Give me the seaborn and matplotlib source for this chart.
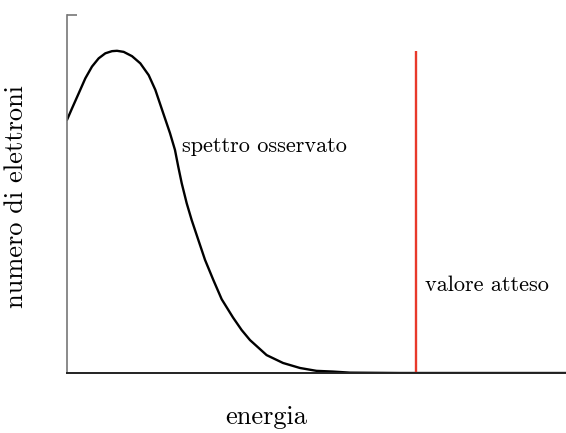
import matplotlib
matplotlib.use("Agg")
import matplotlib.pyplot as plt
import numpy as np
import pandas as pd
import seaborn as sns

energia = [0.0, 0.10, 0.234, 0.367, 0.501, 0.635, 0.768, 0.902, 1.002,
           1.136, 1.303, 1.469, 1.637, 1.770, 1.930, 2.064, 2.164, 2.230,
           2.299, 2.399, 2.499, 2.631, 2.766, 2.932, 3.100, 3.327, 3.500,
           3.667, 4.0, 4.329, 4.669, 5.0, 5.33, 5.67, 6.67, 10.0]
elettroni = [0.707, 0.739, 0.781, 0.823, 0.856, 0.879, 0.893, 0.899, 0.900,
             0.897, 0.885, 0.865, 0.832, 0.791, 0.725, 0.670, 0.623, 0.576,
             0.530, 0.474, 0.427, 0.372, 0.316, 0.260, 0.206, 0.155, 0.120,
             0.092, 0.050, 0.028, 0.014, 0.006, 0.004, 0.001, 0.0, 0.0]
valore_atteso = 7.0
picco = 0.90

sns.set_style("white")
plt.rcParams["font.family"] = ["cmr10", "DejaVu Serif"]
plt.rcParams["axes.formatter.use_mathtext"] = True
plt.rcParams["text.color"] = "black"

df = pd.DataFrame({"energia": energia, "elettroni": elettroni})

fig = plt.figure(figsize=(5.66, 4.33), dpi=100)
ax = fig.add_axes([67 / 566, 60 / 433, 499 / 566, 358 / 433])

sns.lineplot(data=df, x="energia", y="elettroni", color="black", lw=1.7, ax=ax)
ax.vlines(valore_atteso, 0, picco, color="#e8392b", lw=1.7)

ax.text(2.3, 0.634, "spettro osservato", fontsize=16, va="center", color="black")
ax.text(7.17, 0.246, "valore atteso", fontsize=16, va="center", color="black")

ax.set_xlim(0, 10)
ax.set_ylim(0, 1)
ax.set_xlabel("")
ax.set_ylabel("")
ax.set_xticks([])
ax.set_yticks([1.0])
ax.set_yticklabels([])
ax.tick_params(axis="y", left=True, direction="in", length=7, width=1.2,
               color="#777777")

for s in ["top", "right"]:
    ax.spines[s].set_visible(False)
ax.spines["left"].set_color("#777777")
ax.spines["left"].set_linewidth(1.2)
ax.spines["bottom"].set_color("#222222")
ax.spines["bottom"].set_linewidth(1.4)

fig.text(266 / 566, 1 - 417 / 433, "energia", fontsize=19, ha="center",
         va="center", color="black")
fig.text(16 / 566, 1 - 197 / 433, "numero di elettroni", fontsize=19,
         ha="center", va="center", rotation=90, color="black")

fig.savefig("out.png", dpi=100)
